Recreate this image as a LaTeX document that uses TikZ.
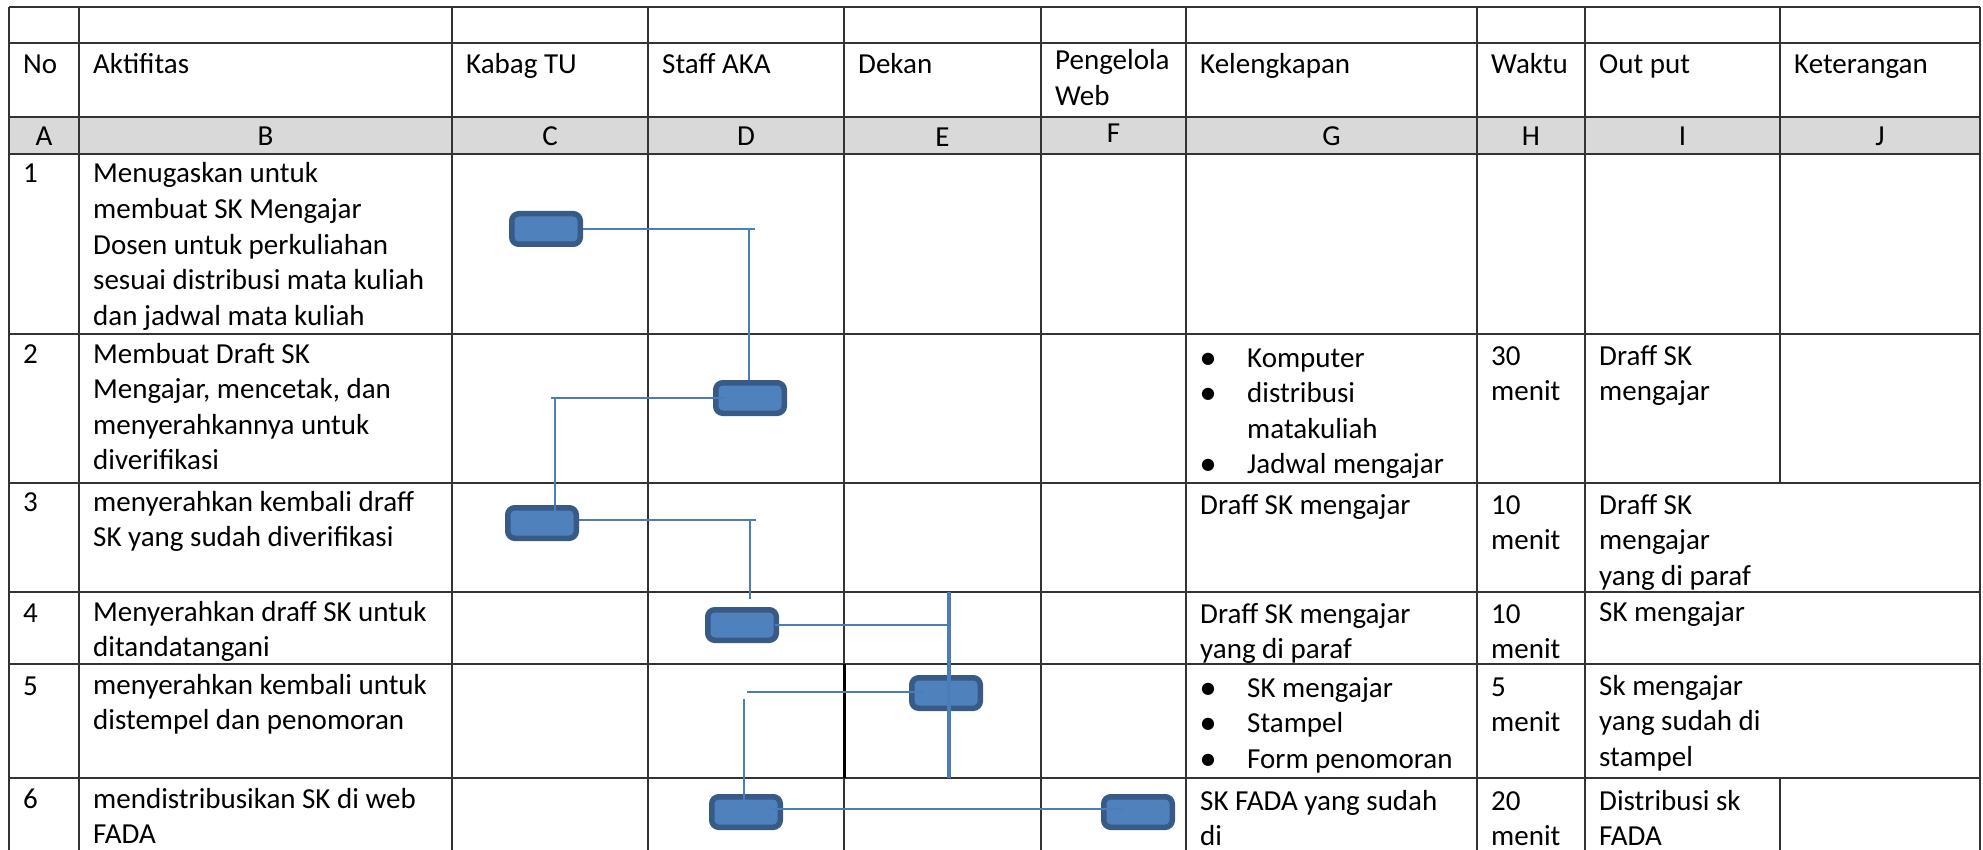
\documentclass[tikz,border=0pt]{standalone}
\usepackage{fontspec}
\setmainfont{Carlito}
\newfontfamily\symfont{DejaVu Sans}
\usetikzlibrary{calc}
\definecolor{boxfill}{HTML}{4F81BD}
\definecolor{boxedge}{HTML}{375A87}
\definecolor{conn}{HTML}{4A7EBB}
\definecolor{hdrgray}{HTML}{D9D9D9}
\definecolor{gridline}{HTML}{333333}
\tikzset{
  txt/.style={anchor=base west, inner sep=0pt, font=\fontsize{29}{35.6}\selectfont},
  ctr/.style={anchor=base, inner sep=0pt, font=\fontsize{29}{35.6}\selectfont},
  flowbox/.style={draw=boxedge, fill=boxfill, line width=5.5pt, rounded corners=7pt,
    minimum width=68.5pt, minimum height=30.5pt, inner sep=0pt},
  link/.style={draw=conn, line width=2pt},
  thicklink/.style={draw=conn, line width=4pt},
  gridln/.style={draw=gridline, line width=1.8pt},
}
\newcommand{\tl}[1]{\vtop{#1}}
\newcommand{\bu}{\makebox[16pt][c]{\raisebox{4pt}{\symfont\fontsize{16}{16}\selectfont ●}}\hspace{31pt}}
\newcommand{\nobu}{\hspace{47pt}}
\begin{document}
\begin{tikzpicture}[x=1pt,y=-1pt]
\useasboundingbox (0,0) rectangle (1983,850);
\fill[white] (0,0) rectangle (1983,850);
% header gray band
\fill[hdrgray] (9,117) rectangle (1980,154);
% grid
\foreach \y in {7,43,117,154,334,483,592,664,778} \draw[gridln] (9,\y) -- (1980,\y);
\foreach \x in {9,79,452,648,844,1041,1186,1477,1585,1980} \draw[gridln] (\x,7) -- (\x,850);
\draw[gridln] (1780,7) -- (1780,483);
\draw[gridln] (1780,778) -- (1780,850);
\draw[black, line width=3pt] (844,664) -- (844,778);

% header texts
\node[txt] (hNo)  at (23,74)   {No};
\node[txt] (hAkt) at (93,74)   {Aktifitas};
\node[txt] (hKab) at (466,74)  {Kabag TU};
\node[txt] (hSta) at (662,74)  {Staff AKA};
\node[txt] (hDek) at (858,74)  {Dekan};
\node[txt] (hPen) at (1055,70) {\tl{\hbox{Pengelola}\hbox{Web}}};
\node[txt] (hKel) at (1200,74) {Kelengkapan};
\node[txt] (hWak) at (1491,74) {Waktu};
\node[txt] (hOut) at (1599,74) {Out put};
\node[txt] (hKet) at (1794,74) {Keterangan};

% letters row
\node[ctr] (lA) at (44,146)     {A};
\node[ctr] (lB) at (265.5,146)  {B};
\node[ctr] (lC) at (550,146)    {C};
\node[ctr] (lD) at (746,146)    {D};
\node[ctr] (lE) at (942.5,147)  {E};
\node[ctr] (lF) at (1113.5,143) {F};
\node[ctr] (lG) at (1331.5,146) {G};
\node[ctr] (lH) at (1531,146)   {H};
\node[ctr] (lI) at (1682.5,146) {I};
\node[ctr] (lJ) at (1880,146)   {J};

% row 1
\node[txt] (n1) at (23,183) {1};
\node[txt] (a1) at (93,183) {\tl{\hbox{Menugaskan untuk}\hbox{membuat SK Mengajar}\hbox{Dosen untuk perkuliahan}\hbox{sesuai distribusi mata kuliah}\hbox{dan jadwal mata kuliah}}};

% row 2
\node[txt] (n2) at (23,363) {2};
\node[txt] (a2) at (93,363) {\tl{\hbox{Membuat Draft SK}\hbox{Mengajar, mencetak, dan}\hbox{menyerahkannya untuk}\hbox{diverifikasi}}};
\node[txt] (g2) at (1200,367) {\tl{\hbox{\bu Komputer}\hbox{\bu distribusi}\hbox{\nobu matakuliah}\hbox{\bu Jadwal mengajar}}};
\node[txt] (w2) at (1491,365) {\tl{\hbox{30}\hbox{menit}}};
\node[txt] (o2) at (1599,365) {\tl{\hbox{Draff SK}\hbox{mengajar}}};

% row 3
\node[txt] (n3) at (23,511) {3};
\node[txt] (a3) at (93,511) {\tl{\hbox{menyerahkan kembali draff}\hbox{SK yang sudah diverifikasi}}};
\node[txt] (g3) at (1200,514) {Draff SK mengajar};
\node[txt] (w3) at (1491,514) {\tl{\hbox{10}\hbox{menit}}};
\node[txt] (o3) at (1599,514) {\tl{\hbox{Draff SK}\hbox{mengajar}\hbox{yang di paraf}}};

% row 4
\node[txt] (n4) at (23,622) {4};
\node[txt] (a4) at (93,621) {\tl{\hbox{Menyerahkan draff SK untuk}\hbox{ditandatangani}}};
\node[txt] (g4) at (1200,623) {\tl{\hbox{Draff SK mengajar}\hbox{yang di paraf}}};
\node[txt] (w4) at (1491,623) {\tl{\hbox{10}\hbox{menit}}};
\node[txt] (o4) at (1599,621) {SK mengajar};

% row 5
\node[txt] (n5) at (23,695) {5};
\node[txt] (a5) at (93,694) {\tl{\hbox{menyerahkan kembali untuk}\hbox{distempel dan penomoran}}};
\node[txt] (g5) at (1200,697) {\tl{\hbox{\bu SK mengajar}\hbox{\bu Stampel}\hbox{\bu Form penomoran}}};
\node[txt] (w5) at (1491,696) {\tl{\hbox{5}\hbox{menit}}};
\node[txt] (o5) at (1599,695) {\tl{\hbox{Sk mengajar}\hbox{yang sudah di}\hbox{stampel}}};

% row 6
\node[txt] (n6) at (23,808) {6};
\node[txt] (a6) at (93,808) {\tl{\hbox{mendistribusikan SK di web}\hbox{FADA}}};
\node[txt] (g6) at (1200,810) {\tl{\hbox{SK FADA yang sudah}\hbox{di}}};
\node[txt] (w6) at (1491,810) {\tl{\hbox{20}\hbox{menit}}};
\node[txt] (o6) at (1599,810) {\tl{\hbox{Distribusi sk}\hbox{FADA}}};

% flow boxes
\node[flowbox] (b1) at (546,229) {};
\node[flowbox] (b2) at (750,398) {};
\node[flowbox] (b3) at (542,523) {};
\node[flowbox] (b4) at (742,625) {};
\node[flowbox] (b5) at (946,693) {};
\node[flowbox] (b6) at (746,812) {};
\node[flowbox] (b7) at (1138,812) {};

% connector corner points
\coordinate (k1)  at (755,229);
\coordinate (k1v) at (749,229);
\coordinate (k2)  at (551,398);
\coordinate (k2v) at (555,398);
\coordinate (k2e) at (555,514);
\coordinate (k3)  at (756,520);
\coordinate (k3v) at (750,520);
\coordinate (k3e) at (750,599);
\coordinate (k4)  at (950,625);
\coordinate (k5a) at (949,592);
\coordinate (k5b) at (949,778);
\coordinate (k6)  at (747,692);
\coordinate (k6v) at (744,699);
\coordinate (k6e) at (744,800);

% connectors
\draw[link] (b1.east) -- (k1);
\draw[link] (k1v) -- (k1v |- b2.north);
\draw[link] ($(b2.west)+(12,0)$) -- (k2);
\draw[link] (k2v) -- (k2e);
\draw[link] (b3.east |- k3) -- (k3);
\draw[link] (k3v) -- (k3e);
\draw[link] ($(b4.east)+(-4,0)$) -- (k4);
\draw[thicklink] (k5a) -- (k5b);
\draw[link] ($(b5.west)+(14,-1)$) -- (k6);
\draw[link] (k6v) -- (k6e);
\draw[link] ($(b6.east)+(-13,-3)$) -- ($(b7.west)+(22,-3)$);
\end{tikzpicture}
\end{document}
